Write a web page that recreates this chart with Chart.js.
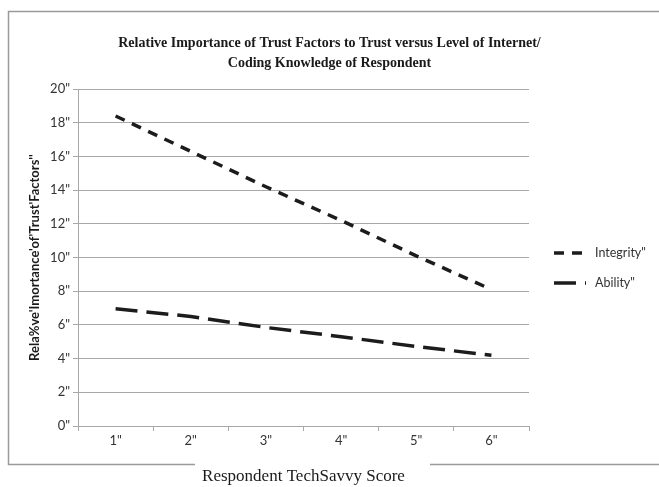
<!DOCTYPE html>
<html>
<head>
<meta charset="utf-8">
<script src="https://cdn.jsdelivr.net/npm/chart.js@4.4.1/dist/chart.umd.min.js"></script>
<style>
  html, body { margin: 0; padding: 0; background: #fff; }
  canvas { display: block; }
</style>
</head>
<body>
<canvas id="trustChart" width="659" height="487"></canvas>
<script>
// chart data
const categories = ['1"', '2"', '3"', '4"', '5"', '6"'];
const integrityValues = [18.4, 16.3, 14.2, 12.2, 10.1, 8.1];
const abilityValues = [6.96, 6.5, 5.85, 5.3, 4.72, 4.2];
const yTickLabels = ['0"', '2"', '4"', '6"', '8"', '10"', '12"', '14"', '16"', '18"', '20"'];
const seriesLabels = ['Integrity"', 'Ability"'];

const inkColor = '#1c1c1c';
const gridColor = '#a8a8a8';
const sansFont = 'Lato, "Open Sans", sans-serif';
const serifFont = '"Liberation Serif", "Times New Roman", serif';

// outer frame with a gap under the x axis title
const framePlugin = {
    id: 'frame',
    beforeDraw(chart) {
        const ctx = chart.ctx;
        ctx.save();
        ctx.fillStyle = '#fff';
        ctx.fillRect(0, 0, chart.width, chart.height);
        ctx.strokeStyle = '#9a9a9a';
        ctx.lineWidth = 1.5;
        ctx.beginPath();
        ctx.moveTo(chart.width + 2, 11.5);
        ctx.lineTo(8.5, 11.5);
        ctx.lineTo(8.5, 464.5);
        ctx.lineTo(195, 464.5);
        ctx.moveTo(430, 464.5);
        ctx.lineTo(chart.width + 2, 464.5);
        ctx.stroke();
        ctx.restore();
    }
};

// legend on the right, built from the datasets
const sideLegend = {
    id: 'sideLegend',
    afterDraw(chart) {
        const ctx = chart.ctx;
        const rows = [253, 283];
        ctx.save();
        chart.data.datasets.forEach((ds, i) => {
            const y = rows[i];
            ctx.strokeStyle = ds.borderColor;
            ctx.lineWidth = ds.borderWidth;
            ctx.setLineDash(ds.borderDash);
            ctx.beginPath();
            ctx.moveTo(554, y);
            ctx.lineTo(586, y);
            ctx.stroke();
            ctx.setLineDash([]);
            ctx.fillStyle = '#333';
            ctx.font = '12.5px ' + sansFont;
            ctx.textBaseline = 'middle';
            ctx.fillText(ds.label, 595, y);
        });
        ctx.restore();
    }
};

new Chart(document.getElementById('trustChart'), {
    type: 'line',
    data: {
        labels: categories,
        datasets: [
            {
                label: seriesLabels[0],
                data: integrityValues,
                borderColor: inkColor,
                borderWidth: 3.5,
                borderDash: [10, 8],
                pointRadius: 0,
                tension: 0,
                fill: false
            },
            {
                label: seriesLabels[1],
                data: abilityValues,
                borderColor: inkColor,
                borderWidth: 3.5,
                borderDash: [22, 9],
                pointRadius: 0,
                tension: 0,
                fill: false
            }
        ]
    },
    options: {
        responsive: false,
        devicePixelRatio: 1,
        animation: false,
        layout: { padding: 0 },
        plugins: {
            legend: { display: false },
            tooltip: { enabled: false },
            title: {
                display: true,
                text: ['Relative Importance of Trust Factors to Trust versus Level of Internet/',
                       'Coding Knowledge of Respondent'],
                color: '#1a1a1a',
                font: { family: serifFont, size: 14, weight: 'bold', lineHeight: 1.43 },
                padding: { top: 33, bottom: 16 }
            }
        },
        scales: {
            x: {
                offset: true,
                grid: {
                    offset: true,
                    drawOnChartArea: false,
                    drawTicks: true,
                    tickLength: 5,
                    color: gridColor
                },
                border: { color: gridColor, width: 1 },
                ticks: {
                    color: '#333',
                    font: { family: sansFont, size: 13 },
                    padding: 2
                },
                title: {
                    display: true,
                    text: 'Respondent TechSavvy Score',
                    color: '#1a1a1a',
                    font: { family: serifFont, size: 17 },
                    padding: { top: 16, bottom: 0 }
                }
            },
            y: {
                min: 0,
                max: 20,
                afterFit(scale) { scale.width = 78; },
                grid: {
                    color: gridColor,
                    lineWidth: 1,
                    tickLength: 5
                },
                border: { color: gridColor, width: 1 },
                ticks: {
                    stepSize: 2,
                    color: '#333',
                    font: { family: sansFont, size: 13 },
                    padding: 3,
                    callback: (value) => yTickLabels[value / 2]
                },
                title: {
                    display: true,
                    text: "Rela%ve'Imortance'of'Trust'Factors''",
                    color: '#1a1a1a',
                    font: { family: sansFont, size: 13, weight: 'bold' },
                    padding: { top: 27, bottom: 0 }
                }
            },
            // empty right-hand strip that leaves room for the legend
            legendSpace: {
                position: 'right',
                display: true,
                afterFit(scale) { scale.width = 130; },
                grid: { display: false },
                border: { display: false },
                ticks: { display: false }
            }
        }
    },
    plugins: [framePlugin, sideLegend]
});
</script>
</body>
</html>
